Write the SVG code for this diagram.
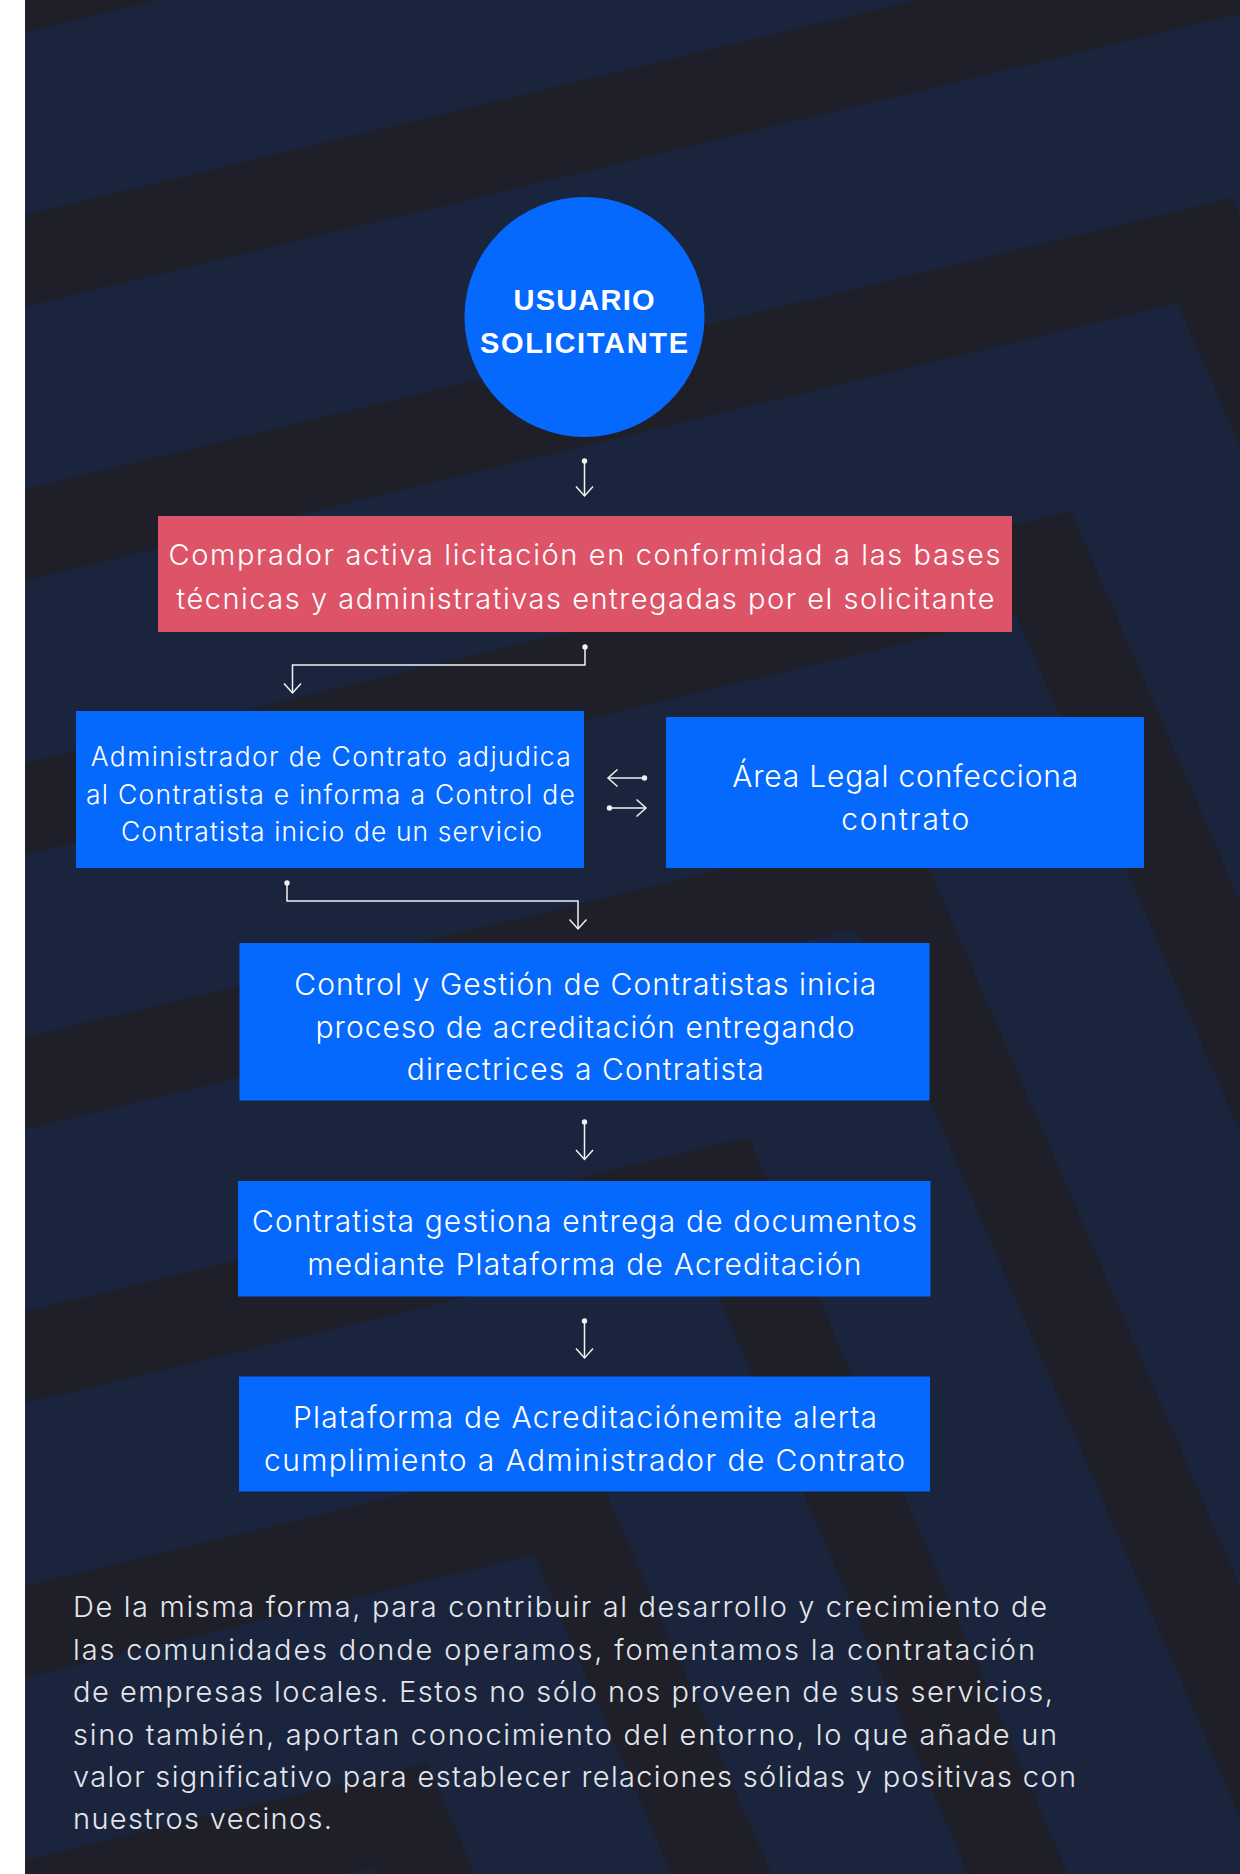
<svg xmlns="http://www.w3.org/2000/svg" width="1240" height="1874" viewBox="0 0 1240 1874">
  <style>
    .dark{fill:#1E1F28}
    .bx{fill:#0669FE}
    .t{font-family:Inter,"Open Sans","Liberation Sans",sans-serif;font-weight:300;fill:#FFFFFF;text-anchor:middle}
    .p{font-family:Inter,"Open Sans","Liberation Sans",sans-serif;font-weight:300;fill:#E4E6EC;font-size:29px}
    .h{font-family:"Liberation Sans",Arial,sans-serif;font-weight:700;fill:#FFFFFF;text-anchor:middle;font-size:29px}
    .conn{fill:none;stroke:#F2F2F2;stroke-width:1.5}
  </style>
  <defs>
    <marker id="arr" viewBox="-11 -10 13 20" refX="0" refY="0" markerWidth="13" markerHeight="20" orient="auto" markerUnits="userSpaceOnUse">
      <path d="M-9.5,-8.5 L0,0 L-9.5,8.5" fill="none" stroke="#F2F2F2" stroke-width="1.5"/>
    </marker>
    <marker id="dot" viewBox="-4 -4 8 8" refX="0" refY="0" markerWidth="8" markerHeight="8" markerUnits="userSpaceOnUse">
      <circle r="2.7" fill="#F2F2F2"/>
    </marker>
  </defs>

  <g id="background">
    <rect x="0" y="0" width="1240" height="1874" fill="#FFFFFF"/>
    <rect x="25" y="0" width="1215" height="1874" fill="#1A253D"/>
    <polygon class="dark" points="25,-59.5 1554,-428 2550.5,1874 2450.5,1874 1499.5,-323 25,32.4"/>
    <polygon class="dark" points="25,214.7 1393,-115 2254,1874 2154.1,1874 1338.5,-10 25,306.6"/>
    <polygon class="dark" points="25,488.9 1232,198 1957.5,1874 1857.6,1874 1177.5,303 25,580.8"/>
    <polygon class="dark" points="25,763.1 1071,511 1661,1874 1561.1,1874 1016.5,616 25,855"/>
    <polygon class="dark" points="25,1037.3 910,824 1364.5,1874 1264.6,1874 855.5,929 25,1129.2"/>
    <polygon class="dark" points="25,1311.5 749,1137 1068,1874 968.1,1874 694.5,1242 25,1403.3"/>
    <polygon class="dark" points="25,1585.7 588,1450 771.5,1874 671.6,1874 533.5,1555 25,1677.5"/>
    <polygon class="dark" points="25,1859.9 427,1763 475,1874 375.1,1874 372.5,1868 25,1951.7"/>
  </g>

  <g id="connectors">
    <path class="conn" d="M584.5,461 V496" marker-start="url(#dot)" marker-end="url(#arr)"/>
    <path class="conn" d="M585,647 V665 H292.5 V693" marker-start="url(#dot)" marker-end="url(#arr)"/>
    <path class="conn" d="M287,883 V901 H578 V929" marker-start="url(#dot)" marker-end="url(#arr)"/>
    <path class="conn" d="M644.5,778 H608" marker-start="url(#dot)" marker-end="url(#arr)"/>
    <path class="conn" d="M609.5,808 H646" marker-start="url(#dot)" marker-end="url(#arr)"/>
    <path class="conn" d="M584.5,1122 V1159.5" marker-start="url(#dot)" marker-end="url(#arr)"/>
    <path class="conn" d="M584.5,1321 V1358" marker-start="url(#dot)" marker-end="url(#arr)"/>
  </g>

  <g id="usuario-solicitante">
    <circle cx="584.5" cy="317" r="120" fill="#0669FE"/>
    <text class="h" x="584" y="310" textLength="141">USUARIO</text>
    <text class="h" x="584" y="353" textLength="208">SOLICITANTE</text>
  </g>

  <g id="comprador">
    <rect x="158" y="516" width="854" height="116" fill="#DD5368"/>
    <text class="t" font-size="29" x="584.5" y="565" textLength="832">Comprador activa licitación en conformidad a las bases</text>
    <text class="t" font-size="29" x="585.5" y="609" textLength="818">técnicas y administrativas entregadas por el solicitante</text>
  </g>

  <g id="administrador">
    <rect class="bx" x="76" y="711" width="508" height="157"/>
    <text class="t" font-size="26.5" x="330.8" y="766" textLength="480">Administrador de Contrato adjudica</text>
    <text class="t" font-size="26.5" x="330.4" y="804" textLength="489">al Contratista e informa a Control de</text>
    <text class="t" font-size="26.5" x="331.4" y="841" textLength="421">Contratista inicio de un servicio</text>
  </g>

  <g id="area-legal">
    <rect class="bx" x="666" y="717" width="478" height="151"/>
    <text class="t" font-size="30" x="905.2" y="787" textLength="346">Área Legal confecciona</text>
    <text class="t" font-size="30" x="905.2" y="830" textLength="128">contrato</text>
  </g>

  <g id="control-gestion">
    <rect class="bx" x="239.5" y="943" width="690" height="157.5"/>
    <text class="t" font-size="30" x="585.3" y="995" textLength="582">Control y Gestión de Contratistas inicia</text>
    <text class="t" font-size="30" x="585" y="1037.5" textLength="539">proceso de acreditación entregando</text>
    <text class="t" font-size="30" x="585.3" y="1080" textLength="357">directrices a Contratista</text>
  </g>

  <g id="contratista">
    <rect class="bx" x="238" y="1181" width="692.5" height="115.5"/>
    <text class="t" font-size="30" x="584.5" y="1231.5" textLength="665">Contratista gestiona entrega de documentos</text>
    <text class="t" font-size="30" x="584.3" y="1275" textLength="554">mediante Plataforma de Acreditación</text>
  </g>

  <g id="plataforma">
    <rect class="bx" x="239" y="1376.5" width="691" height="115"/>
    <text class="t" font-size="30" x="585" y="1427.5" textLength="584">Plataforma de Acreditaciónemite alerta</text>
    <text class="t" font-size="30" x="584.6" y="1470.5" textLength="641">cumplimiento a Administrador de Contrato</text>
  </g>

  <g id="paragraph">
    <text class="p" x="73" y="1617" textLength="974">De la misma forma, para contribuir al desarrollo y crecimiento de</text>
    <text class="p" x="73" y="1660" textLength="962">las comunidades donde operamos, fomentamos la contratación</text>
    <text class="p" x="73" y="1702" textLength="980">de empresas locales. Estos no sólo nos proveen de sus servicios,</text>
    <text class="p" x="73" y="1745" textLength="984">sino también, aportan conocimiento del entorno, lo que añade un</text>
    <text class="p" x="73" y="1787" textLength="1003">valor significativo para establecer relaciones sólidas y positivas con</text>
    <text class="p" x="73" y="1829" textLength="259">nuestros vecinos.</text>
  </g>
</svg>
